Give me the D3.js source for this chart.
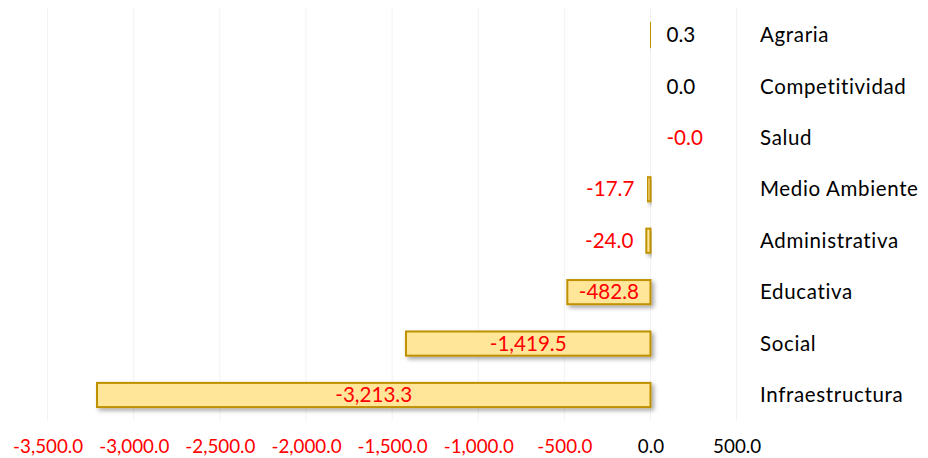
<!DOCTYPE html>
<html>
<head>
<meta charset="utf-8">
<title>Variación por sector</title>
<style>
  html, body { margin: 0; padding: 0; background: #fff; }
  svg { display: block; font-family: Lato, "Open Sans", sans-serif; }
</style>
</head>
<body>
<script src="https://cdn.jsdelivr.net/npm/d3@7"></script>
<script>
// datos
var categorias = ['Agraria', 'Competitividad', 'Salud', 'Medio Ambiente', 'Administrativa', 'Educativa', 'Social', 'Infraestructura'];
var valores = [0.3, 0.0, -0.01, -17.7, -24.0, -482.8, -1419.5, -3213.3];
var ticks = [-3500, -3000, -2500, -2000, -1500, -1000, -500, 0, 500];

var width = 928, height = 458;
var rojo = '#ff0000';

var svg = d3.select('body').append('svg')
  .attr('width', width)
  .attr('height', height);

// sombra de las barras
var defs = svg.append('defs');
defs.append('filter').attr('id', 'sombra')
  .attr('x', '-10%').attr('y', '-30%').attr('width', '130%').attr('height', '190%')
  .append('feDropShadow')
  .attr('dx', 2.5).attr('dy', 2.5).attr('stdDeviation', 2)
  .attr('flood-color', '#000').attr('flood-opacity', 0.35);

var x = d3.scaleLinear().domain([-3500, 500]).range([47.6, 736.6]);
var y = d3.scaleBand().domain(categorias).range([9.3, 420.7])
  .paddingInner(0.53).paddingOuter(0.265);

var fmt = d3.formatLocale({decimal: '.', thousands: ',', grouping: [3], currency: ['', ''], minus: '-'}).format(',.1f');
function etiqueta(v) {
  var s = fmt(v);
  if (v < 0 && s.charAt(0) !== '-') s = '-' + s;
  return s;
}

// rejilla vertical
svg.append('g').selectAll('line').data(ticks).enter().append('line')
  .attr('x1', function(d){ return x(d); })
  .attr('x2', function(d){ return x(d); })
  .attr('y1', 8).attr('y2', 421)
  .attr('stroke', '#f2f2f2').attr('stroke-width', 1);

// eje x
var ejeX = svg.append('g')
  .attr('transform', 'translate(0,' + 446 + ')')
  .call(d3.axisBottom(x).tickValues(ticks).tickFormat(etiqueta).tickSize(0).tickPadding(0));
ejeX.select('.domain').remove();
ejeX.selectAll('text')
  .attr('y', 0).attr('dy', '0.35em')
  .style('font-family', 'Lato, "Open Sans", sans-serif')
  .style('font-size', '18.8px')
  .attr('fill', function(d){ return d < 0 ? rojo : '#000'; });

var datos = categorias.map(function(c, i){ return {cat: c, v: valores[i]}; });

// barras
svg.append('g').selectAll('rect')
  .data(datos.filter(function(d){ return Math.abs(d.v) >= 0.05; }))
  .enter().append('rect')
  .attr('x', function(d){ return x(Math.min(0, d.v)); })
  .attr('y', function(d){ return y(d.cat); })
  .attr('width', function(d){ return Math.abs(x(d.v) - x(0)); })
  .attr('height', y.bandwidth())
  .attr('fill', '#ffe699')
  .attr('stroke', '#bf9000')
  .attr('stroke-width', 2)
  .attr('filter', 'url(#sombra)');

// etiquetas de datos
svg.append('g').selectAll('text').data(datos).enter().append('text')
  .attr('y', function(d){ return y(d.cat) + y.bandwidth() / 2; })
  .attr('dy', '0.35em')
  .style('font-size', '20.6px')
  .attr('fill', function(d){ return d.v < 0 ? rojo : '#000'; })
  .text(function(d){ return etiqueta(d.v); })
  .each(function(d){
    var t = d3.select(this);
    var ancho = Math.abs(x(d.v) - x(0));
    if (ancho > 60) {
      t.attr('x', (x(d.v) + x(0)) / 2).attr('text-anchor', 'middle');
    } else if (d.v <= -1) {
      t.attr('x', x(d.v) - 13).attr('text-anchor', 'end');
    } else {
      t.attr('x', x(0) + 16).attr('text-anchor', 'start');
    }
  });

// categorías
svg.append('g').selectAll('text').data(categorias).enter().append('text')
  .attr('x', 760)
  .attr('y', function(d){ return y(d) + y.bandwidth() / 2; })
  .attr('dy', '0.35em')
  .style('font-size', '20.5px')
  .style('letter-spacing', '0.65px')
  .attr('fill', '#000')
  .text(function(d){ return d; });
</script>
</body>
</html>
